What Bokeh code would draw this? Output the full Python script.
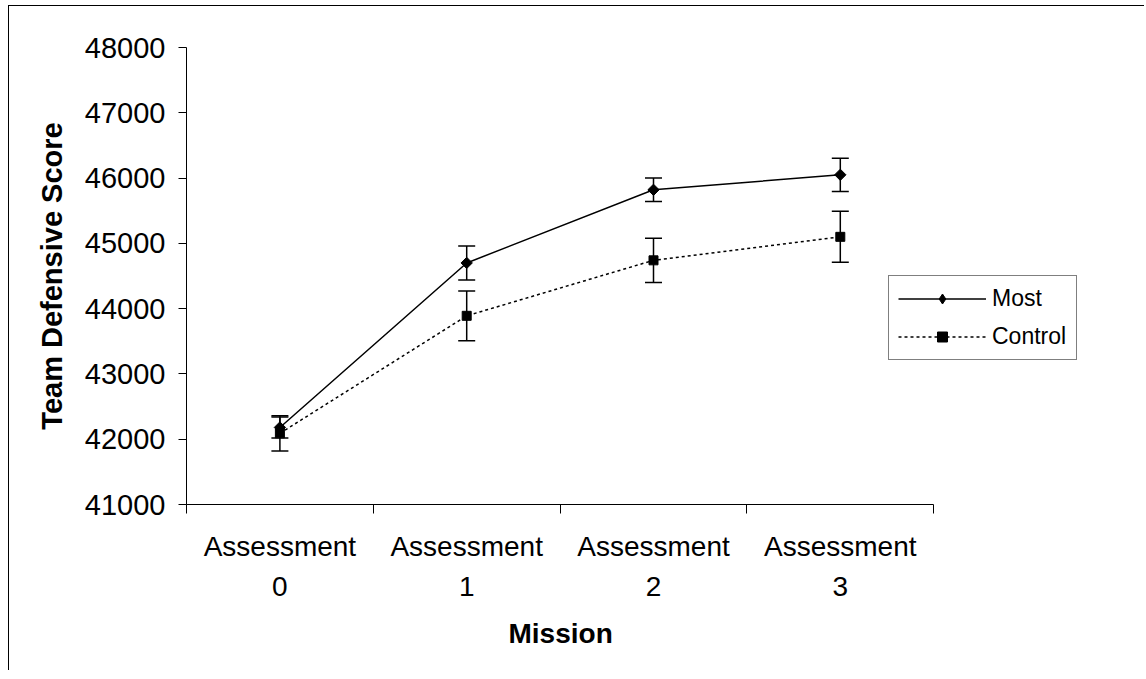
import math
from bokeh.plotting import figure
from bokeh.models import (ColumnDataSource, FixedTicker, Range1d, Whisker, TeeHead,
                          Legend, LegendItem, LinearAxis, Title)
from bokeh.embed import file_html
from bokeh.resources import INLINE

# ---- data ----
category_names = ["Assessment", "Assessment", "Assessment", "Assessment"]
category_numbers = ["0", "1", "2", "3"]
most_mean = [42180, 44700, 45820, 46050]
most_err = [160, 260, 180, 255]
control_mean = [42090, 43890, 44740, 45100]
control_err = [270, 380, 340, 390]
y_ticks = [41000, 42000, 43000, 44000, 45000, 46000, 47000, 48000]

n = len(category_names)
x_pos = [i + 0.5 for i in range(n)]

FONT = "Liberation Sans"

p = figure(width=1136, height=665, output_backend="svg", toolbar_location=None,
           x_range=Range1d(0, 5.0), y_range=Range1d(41000, 48000),
           x_axis_location=None,
           min_border_left=177, min_border_right=25, min_border_top=41,
           min_border_bottom=167)
p.styles = {"border-left": "1px solid #000000", "border-top": "1px solid #000000",
            "margin-left": "8px", "margin-top": "5px"}
p.outline_line_color = None
p.grid.visible = False
p.background_fill_color = "white"
p.border_fill_color = "white"

# x axis (upper row: "Assessment", ticks between categories)
xa = LinearAxis(bounds=(0, n))
xa.ticker = FixedTicker(ticks=x_pos, minor_ticks=list(range(n + 1)))
xa.major_label_overrides = {x: c for x, c in zip(x_pos, category_names)}
xa.major_tick_in = 0
xa.major_tick_out = 0
xa.minor_tick_in = 0
xa.minor_tick_out = 9
xa.minor_tick_line_color = "black"
xa.axis_line_color = "black"
xa.major_label_text_font = FONT
xa.major_label_text_font_size = "28px"
xa.major_label_text_color = "black"
xa.major_label_standoff = 17
p.add_layout(xa, "below")

# x axis (lower row: numbers)
xb = LinearAxis(bounds=(0, n))
xb.ticker = FixedTicker(ticks=x_pos, minor_ticks=[])
xb.major_label_overrides = {x: c for x, c in zip(x_pos, category_numbers)}
xb.axis_line_color = None
xb.major_tick_line_color = None
xb.minor_tick_line_color = None
xb.major_label_text_font = FONT
xb.major_label_text_font_size = "28px"
xb.major_label_text_color = "black"
xb.major_label_standoff = 6
p.add_layout(xb, "below")

# x axis title, centred under the four categories
mission = Title(text="Mission", align="left", offset=322,
                text_font=FONT, text_font_size="28px", text_font_style="bold",
                text_color="black", standoff=34)
p.add_layout(mission, "below")

# y axis
ya = p.yaxis[0]
ya.ticker = FixedTicker(ticks=y_ticks, minor_ticks=[])
ya.major_tick_in = 0
ya.major_tick_out = 8
ya.major_tick_line_color = "black"
ya.axis_line_color = "black"
ya.major_label_text_font = FONT
ya.major_label_text_font_size = "29px"
ya.major_label_text_color = "black"
ya.major_label_standoff = 13
ya.axis_label = "Team Defensive Score"
ya.axis_label_text_font = FONT
ya.axis_label_text_font_style = "bold"
ya.axis_label_text_font_size = "29px"
ya.axis_label_text_color = "black"
ya.axis_label_standoff = 14

most_src = ColumnDataSource(dict(
    x=x_pos, y=most_mean,
    upper=[m + e for m, e in zip(most_mean, most_err)],
    lower=[m - e for m, e in zip(most_mean, most_err)]))
ctrl_src = ColumnDataSource(dict(
    x=x_pos, y=control_mean,
    upper=[m + e for m, e in zip(control_mean, control_err)],
    lower=[m - e for m, e in zip(control_mean, control_err)]))

for src in (most_src, ctrl_src):
    w = Whisker(source=src, base="x", upper="upper", lower="lower",
                line_color="black", line_width=1.5,
                upper_head=TeeHead(size=17, line_color="black", line_width=1.5),
                lower_head=TeeHead(size=17, line_color="black", line_width=1.5))
    p.add_layout(w)

l1 = p.line("x", "y", source=most_src, line_color="black", line_width=1.5)
m1 = p.scatter("x", "y", source=most_src, marker="square", size=8,
               angle=math.pi / 4, fill_color="black", line_color="black")
l2 = p.line("x", "y", source=ctrl_src, line_color="black", line_width=1.5,
            line_dash="3 3")
m2 = p.scatter("x", "y", source=ctrl_src, marker="square", size=9,
               fill_color="black", line_color="black")

# legend-only diamond marker (legend does not rotate markers); its single
# point lies outside the visible x range, so only the legend shows it
legend_src = ColumnDataSource(dict(x=[-10], y=[most_mean[0]]))
lm1 = p.scatter("x", "y", source=legend_src, marker="diamond", size=12,
                fill_color="black", line_color="black")

legend = Legend(items=[LegendItem(label="Most", renderers=[l1, lm1]),
                       LegendItem(label="Control", renderers=[l2, m2])],
                location=(702, 144))
legend.border_line_color = "black"
legend.border_line_width = 1
legend.background_fill_color = "white"
legend.background_fill_alpha = 1
legend.label_text_font = FONT
legend.label_text_font_size = "23px"
legend.label_text_color = "black"
legend.glyph_width = 88
legend.glyph_height = 25
legend.label_height = 25
legend.label_width = 75
legend.spacing = 11
legend.padding = 9
legend.margin = 0
legend.label_standoff = 6
p.add_layout(legend, "center")

open("out.html", "w").write(file_html(p, INLINE))
